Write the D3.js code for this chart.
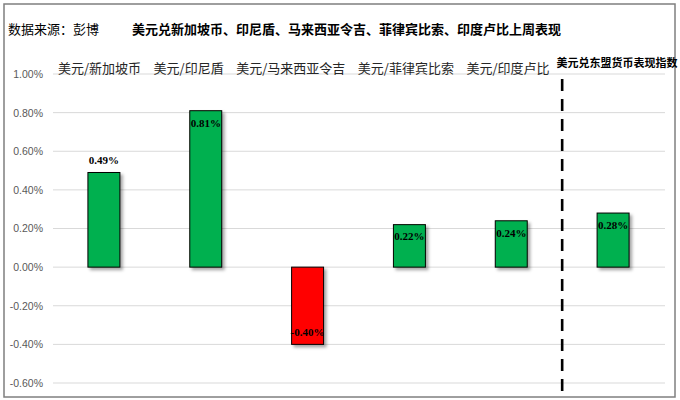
<!DOCTYPE html>
<html><head><meta charset="utf-8">
<script src="https://cdn.jsdelivr.net/npm/d3@7"></script>
<style>html,body{margin:0;padding:0;background:#fff}</style>
</head><body>
<svg id="c" width="680" height="400"></svg>
<script>
const categories = ["美元/新加坡币","美元/印尼盾","美元/马来西亚令吉","美元/菲律宾比索","美元/印度卢比","美元兑东盟货币表现指数"];
const values = [0.49, 0.81, -0.40, 0.22, 0.24, 0.28];
const yTicks = [-0.6,-0.4,-0.2,0,0.2,0.4,0.6,0.8,1.0];
const sourceText = "数据来源：彭博";
const titleText = "美元兑新加坡币、印尼盾、马来西亚令吉、菲律宾比索、印度卢比上周表现";

const svg = d3.select("#c");
const cjk = "'Noto Sans CJK SC','Noto Sans',sans-serif";

const defs = svg.append("defs");
const f = defs.append("filter").attr("id","sh").attr("x","-30%").attr("y","-30%").attr("width","160%").attr("height","160%");
f.append("feDropShadow").attr("dx",2.5).attr("dy",2.5).attr("stdDeviation",1.6).attr("flood-color","#000").attr("flood-opacity",0.35);

svg.append("rect").attr("x",4).attr("y",4).attr("width",671).attr("height",393)
  .attr("fill","#fff").attr("stroke","#7f7f7f").attr("stroke-width",1.5);

const x = d3.scaleBand().domain(categories).range([53,664]).paddingInner(0.686).paddingOuter(0.343);
const y = d3.scaleLinear().domain([-0.6,1.0]).range([383,74]);

// gridlines
svg.append("g").selectAll("line").data(yTicks).join("line")
  .attr("x1",53).attr("x2",665).attr("y1",d=>y(d)).attr("y2",d=>y(d))
  .attr("stroke","#d9d9d9").attr("stroke-width",1);

// y axis
const ya = d3.axisLeft(y).tickValues(yTicks).tickSize(0).tickPadding(0).tickFormat(d=>d.toFixed(2)+"%");
const yg = svg.append("g").attr("transform","translate(43,0)").call(ya);
yg.select(".domain").remove();
yg.selectAll("text").attr("font-family","'Liberation Sans',Arial,sans-serif").attr("font-size",10.5).attr("fill","#595959");

// bars
svg.append("g").selectAll("rect").data(values).join("rect")
  .attr("x",(d,i)=>x(categories[i]))
  .attr("width",x.bandwidth())
  .attr("y",d=>y(Math.max(0,d)))
  .attr("height",d=>Math.abs(y(d)-y(0)))
  .attr("fill",d=>d<0?"#FF0000":"#00B050")
  .attr("stroke","#000").attr("stroke-width",1)
  .attr("filter","url(#sh)");

// value labels
svg.append("g").selectAll("text").data(values).join("text")
  .attr("x",(d,i)=>x(categories[i])+x.bandwidth()/2)
  .attr("y",(d,i)=>{
    if (i===0) return y(d)-12;
    return d<0 ? y(d)-12 : y(d)+12;
  })
  .attr("dy","0.35em")
  .attr("text-anchor","middle")
  .attr("font-family","'Liberation Serif','Times New Roman',serif")
  .attr("font-weight","bold").attr("font-size",11).attr("fill","#000")
  .text(d=>d.toFixed(2)+"%");

// dashed separator between 5th and 6th category
const sepX = (x(categories[4])+x.bandwidth() + x(categories[5]))/2;
svg.append("line").attr("x1",sepX).attr("x2",sepX).attr("y1",79).attr("y2",397)
  .attr("stroke","#000").attr("stroke-width",2.6).attr("stroke-dasharray","12,8");

// category labels flowing along the top
let cx = x(categories[0]) - x.step()*x.paddingInner()/2 - 30;
cx = 58;
const catG = svg.append("g");
categories.slice(0,5).forEach(c=>{
  const t = catG.append("text").attr("x",cx).attr("y",73)
    .attr("font-family",cjk).attr("font-size",13).attr("fill","#262626").text(c);
  cx += t.node().getComputedTextLength() + 12.5;
});
svg.append("text").attr("x",x(categories[5])+x.bandwidth()/2+4).attr("y",67)
  .attr("text-anchor","middle").attr("font-family",cjk).attr("font-weight","bold")
  .attr("font-size",11).attr("fill","#000").text(categories[5]);

// title row
svg.append("text").attr("x",8).attr("y",34).attr("font-family",cjk).attr("font-size",13).attr("fill","#000").text(sourceText);
svg.append("text").attr("x",132).attr("y",34).attr("font-family",cjk).attr("font-weight","bold").attr("font-size",13).attr("fill","#000").text(titleText);
</script>
</body></html>
